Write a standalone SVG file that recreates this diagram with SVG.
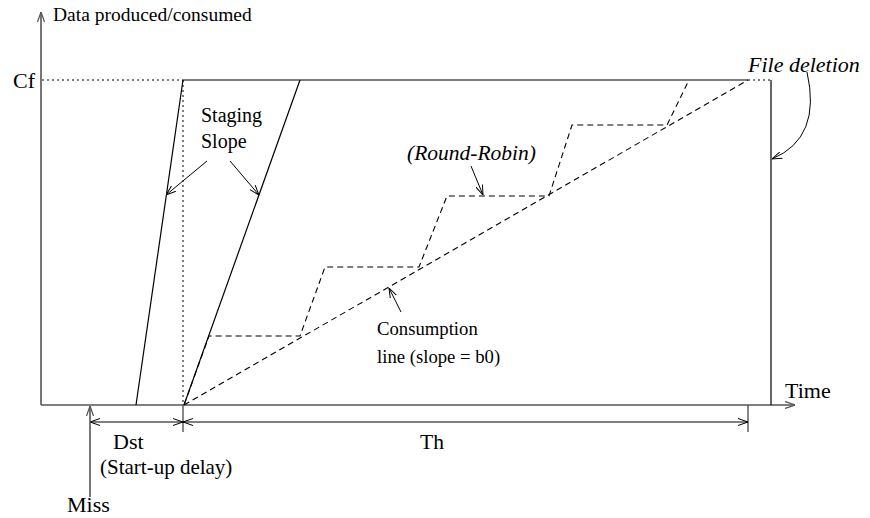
<svg xmlns="http://www.w3.org/2000/svg" width="870" height="518" viewBox="0 0 870 518">
  <defs>
    <marker id="arr" viewBox="0 0 10 8" refX="10" refY="4" markerWidth="10" markerHeight="8" markerUnits="userSpaceOnUse" orient="auto-start-reverse">
      <path d="M0,0.5 L10,4 L0,7.5" fill="none" stroke="#000" stroke-width="1"/>
    </marker>
    <marker id="arrg" viewBox="0 0 10 8" refX="10" refY="4" markerWidth="10" markerHeight="8" markerUnits="userSpaceOnUse" orient="auto-start-reverse">
      <path d="M0,0.5 L10,4 L0,7.5" fill="none" stroke="#555" stroke-width="1.2"/>
    </marker>
  </defs>
  <style>
    .t { font-family: "Liberation Serif", "Times New Roman", serif; fill: #000; }
    .it { font-style: italic; }
    .axis { stroke: #555; stroke-width: 1.6; fill: none; }
    .solid { stroke: #000; stroke-width: 1.2; fill: none; }
    .dot { stroke: #000; stroke-width: 1; stroke-dasharray: 2 3; fill: none; }
    .dash { stroke: #000; stroke-width: 1.1; stroke-dasharray: 6 4; fill: none; }
    .lead { stroke: #000; stroke-width: 1; fill: none; }
    .tick { stroke: #555; stroke-width: 1.4; }
  </style>

  <rect width="870" height="518" fill="#fff"/>

  <!-- axes -->
  <g id="axes">
    <line class="axis" x1="41" y1="405" x2="41" y2="12" marker-end="url(#arrg)"/>
    <line class="axis" x1="41" y1="405" x2="795" y2="405" marker-end="url(#arrg)"/>
    <text class="t" x="53" y="21" font-size="19.5">Data produced/consumed</text>
    <text class="t" x="785" y="398" font-size="22">Time</text>
    <text class="t" x="13" y="88" font-size="22">Cf</text>
  </g>

  <!-- staging curves and file boundary -->
  <g id="staging">
    <line class="dot" x1="42" y1="80" x2="183" y2="80"/>
    <line class="dot" x1="183" y1="80" x2="183" y2="405"/>
    <line class="solid" x1="136" y1="405" x2="183" y2="80"/>
    <line class="solid" x1="183" y1="80" x2="748" y2="80"/>
    <line class="solid" x1="184" y1="405" x2="300" y2="80"/>
    <line class="dot" x1="748" y1="80" x2="771" y2="80"/>
    <line class="solid" x1="771" y1="80" x2="771" y2="405"/>
    <text class="t" x="201" y="122" font-size="20">Staging</text>
    <text class="t" x="201" y="148" font-size="20">Slope</text>
  </g>

  <!-- consumption line and round-robin staircase -->
  <g id="consumption">
    <line class="dash" x1="184" y1="405" x2="748" y2="80"/>
    <polyline class="dash" points="184,405 209,336 300,336 325,267 419,267 447,196 549,196 572,125 667,125 689,80"/>
    <text class="t it" x="407" y="160" font-size="21.5">(Round-Robin)</text>
    <text class="t" x="377" y="335" font-size="18.7">Consumption</text>
    <text class="t" x="377" y="363" font-size="18.7">line (slope = b0)</text>
    <text class="t it" x="748" y="72" font-size="22">File deletion</text>
  </g>

  <!-- time annotations -->
  <g id="timeline">
    <line class="tick" x1="183" y1="405" x2="183" y2="432"/>
    <line class="tick" x1="748" y1="405" x2="748" y2="432"/>
    <line class="lead" x1="90" y1="422" x2="183" y2="422" marker-start="url(#arr)" marker-end="url(#arr)"/>
    <line class="lead" x1="183" y1="422" x2="748" y2="422" marker-start="url(#arr)" marker-end="url(#arr)"/>
    <line class="axis" x1="90" y1="497" x2="90" y2="406" marker-end="url(#arrg)"/>
    <text class="t" x="113" y="449" font-size="22">Dst</text>
    <text class="t" x="100" y="474" font-size="21">(Start-up delay)</text>
    <text class="t" x="67" y="512" font-size="22">Miss</text>
    <text class="t" x="420" y="449" font-size="21.5">Th</text>
  </g>

  <!-- label pointers -->
  <g id="connectors">
    <line class="lead" x1="207" y1="161" x2="166" y2="195" marker-end="url(#arr)"/>
    <line class="lead" x1="230" y1="161" x2="259" y2="195" marker-end="url(#arr)"/>
    <line class="lead" x1="471" y1="166" x2="483" y2="195" marker-end="url(#arr)"/>
    <line class="lead" x1="401" y1="312" x2="389" y2="288" marker-end="url(#arr)"/>
    <path class="lead" d="M807,72 Q822,138 772,159" marker-end="url(#arr)"/>
  </g>
</svg>
